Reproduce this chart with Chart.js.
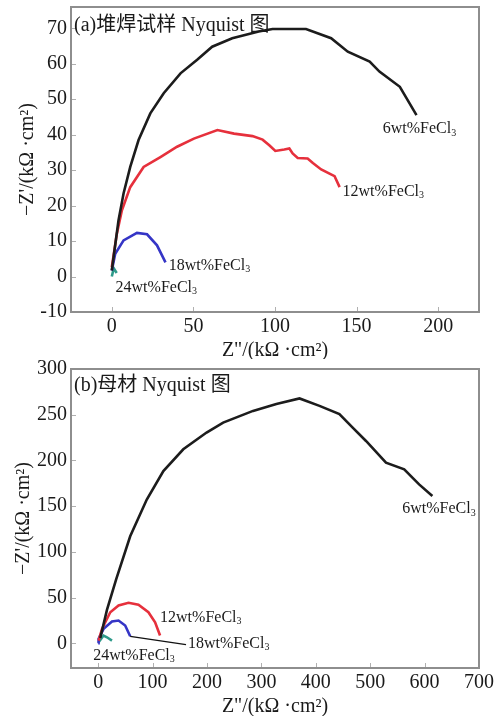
<!DOCTYPE html>
<html>
<head>
<meta charset="utf-8">
<script src="https://cdn.jsdelivr.net/npm/chart.js@4.4.1/dist/chart.umd.min.js"></script>
<style>
    html, body { margin: 0; padding: 0; background: #fff; }
    #chartA { position: absolute; left: 0; top: 0; }
    #chartB { position: absolute; left: 0; top: 359px; }
</style>
</head>
<body>
<canvas id="chartA" width="502" height="359"></canvas>
<canvas id="chartB" width="502" height="357"></canvas>
<script>
    'use strict';

    // tick labels
    const xTicksA = [0, 50, 100, 150, 200];
    const yTicksA = [-10, 0, 10, 20, 30, 40, 50, 60, 70];
    const xTicksB = [0, 100, 200, 300, 400, 500, 600, 700];
    const yTicksB = [0, 50, 100, 150, 200, 250, 300];

    // series names (subscript 3 drawn separately)
    const seriesNames = ['6wt%FeCl', '12wt%FeCl', '18wt%FeCl', '24wt%FeCl'];
    const titleA = '(a)堆焊试样 Nyquist 图';
    const titleB = '(b)母材 Nyquist 图';
    const xTitle = 'Z"/(kΩ ·cm²)';
    const yTitle = '−Z\'/(kΩ ·cm²)';

    // (a) 堆焊试样
    const a6x = [0, 4.1, 7.2, 11.3, 16.4, 23.6, 31.8, 42.1, 52.3, 61.5, 73.8, 90, 98.5, 119, 134.4, 144.6, 158, 164, 176.5, 186.7];
    const a6y = [1.7, 15.8, 23.4, 30.9, 38.5, 46, 51.7, 57.3, 61.1, 64.8, 67.2, 69.1, 69.8, 69.8, 67.2, 63.4, 60.6, 57.8, 53.5, 45.5];
    const a12x = [0, 3.1, 6.2, 11.3, 19.5, 29.8, 40, 50.3, 64.7, 74.9, 86.2, 92.4, 96.5, 100.2, 105.7, 108.8, 110.8, 113.9, 120, 123.2, 128.3, 133.4, 136.5, 139.6];
    const a12y = [2.6, 12.1, 18.7, 25.2, 30.9, 33.7, 36.6, 38.9, 41.3, 40.3, 39.6, 38.6, 37.0, 35.4, 35.8, 36.1, 34.7, 33.4, 33.3, 32.0, 30.2, 29.0, 28.3, 25.2];
    const a18x = [0, 2.1, 7.2, 15.4, 21.6, 27.7, 32.9];
    const a18y = [1.7, 6.4, 10.2, 12.3, 11.9, 8.8, 4.0];
    const a24x = [0, 1.2, 3];
    const a24y = [0, 2.3, 1];

    // (b) 母材
    const b6x = [3.8, 16.1, 33, 58.8, 89.3, 119.8, 156.4, 199.2, 229.7, 284.6, 327.5, 370.1, 406.8, 443.4, 467.8, 492.3, 529, 562.5, 589.9, 614.3];
    const b6y = [5.8, 36.6, 70, 117, 157.3, 188.4, 212.2, 230.5, 241.4, 254.2, 261.6, 267.8, 259.7, 250.6, 235.9, 221.3, 197.5, 190.3, 173.8, 161];
    const b12x = [0.7, 7, 22.2, 37.4, 55.7, 74, 92.3, 104.6, 113.7];
    const b12y = [3, 15.8, 34, 41.4, 44.3, 42.1, 34, 23, 8.5];
    const b18x = [0, 0.7, 9.9, 25.3, 37.4, 49.6, 58.8];
    const b18y = [0, 4.8, 15.8, 23.8, 24.9, 19.4, 7.7];
    const b24x = [0.7, 9.9, 16.1, 25.3];
    const b24y = [1.1, 8.5, 6.6, 3];

    const colors = ['#1c1c1c', '#e6303c', '#3535c6', '#2e9a8a'];
    const serif = "'Liberation Serif', 'Noto Sans CJK SC'";

    function pts(xs, ys) {
        return xs.map(function (x, i) { return { x: x, y: ys[i] }; });
    }

    function ds(xs, ys, i) {
        return {
            data: pts(xs, ys),
            showLine: true,
            borderColor: colors[i],
            backgroundColor: colors[i],
            borderWidth: 2.6,
            pointRadius: 0,
            tension: 0
        };
    }

    function drawName(ctx, text, x, y) {
        ctx.font = '16px ' + serif;
        ctx.textAlign = 'left';
        ctx.textBaseline = 'middle';
        ctx.fillText(text, x, y);
        var w = ctx.measureText(text).width;
        ctx.font = '10px ' + serif;
        ctx.fillText('3', x + w, y + 4);
    }

    // frame, inward ticks, panel title and curve labels
    const nyqPlugin = {
        id: 'nyq',
        afterDraw: function (chart, args, opts) {
            const ctx = chart.ctx;
            const a = chart.chartArea;
            const xs = chart.scales.x, ys = chart.scales.y;
            ctx.save();
            ctx.strokeStyle = '#b0b0b0';
            ctx.lineWidth = 1;
            ctx.beginPath();
            xs.ticks.forEach(function (t) {
                var px = Math.round(xs.getPixelForValue(t.value)) + 0.5;
                ctx.moveTo(px, a.bottom);
                ctx.lineTo(px, a.bottom - 5);
            });
            ys.ticks.forEach(function (t) {
                var py = Math.round(ys.getPixelForValue(t.value)) + 0.5;
                ctx.moveTo(a.left, py);
                ctx.lineTo(a.left + 5, py);
            });
            ctx.stroke();

            ctx.strokeStyle = '#8e8e8e';
            ctx.lineWidth = 2;
            ctx.strokeRect(a.left, a.top, a.right - a.left, a.bottom - a.top);

            ctx.fillStyle = '#1a1a1a';
            ctx.font = '20px ' + serif;
            ctx.textAlign = 'left';
            ctx.textBaseline = 'middle';
            ctx.fillText(opts.title, a.left + 3, a.top + opts.titleDy);

            if (opts.leader) {
                ctx.strokeStyle = '#111';
                ctx.lineWidth = 1.3;
                ctx.beginPath();
                ctx.moveTo(xs.getPixelForValue(opts.leader[0]), ys.getPixelForValue(opts.leader[1]));
                ctx.lineTo(xs.getPixelForValue(opts.leader[2]), ys.getPixelForValue(opts.leader[3]));
                ctx.stroke();
            }

            opts.labels.forEach(function (l, i) {
                drawName(ctx, seriesNames[i], xs.getPixelForValue(l[0]), ys.getPixelForValue(l[1]));
            });
            ctx.restore();
        }
    };

    function makeChart(id, datasets, cfg) {
        return new Chart(document.getElementById(id), {
            type: 'scatter',
            data: { datasets: datasets },
            options: {
                responsive: false,
                animation: false,
                layout: { padding: { top: cfg.padTop, right: 23, left: 0, bottom: 0 } },
                scales: {
                    x: {
                        type: 'linear',
                        min: cfg.xMin,
                        max: cfg.xMax,
                        grid: { display: false, drawTicks: false },
                        border: { display: false },
                        afterBuildTicks: function (s) { s.ticks = cfg.xTicks.map(function (v) { return { value: v }; }); },
                        afterFit: function (s) {
                            s.height = cfg.xHeight;
                            s.paddingLeft = 0;
                            s.paddingRight = 0;
                        },
                        ticks: { color: '#1a1a1a', padding: 3, font: { family: serif, size: 20 } },
                        title: {
                            display: true,
                            text: xTitle,
                            color: '#1a1a1a',
                            font: { family: serif, size: 20, lineHeight: 1 },
                            padding: { top: 0, bottom: cfg.xTitlePad }
                        }
                    },
                    y: {
                        type: 'linear',
                        min: cfg.yMin,
                        max: cfg.yMax,
                        grid: { display: false, drawTicks: false },
                        border: { display: false },
                        afterBuildTicks: function (s) { s.ticks = cfg.yTicks.map(function (v) { return { value: v }; }); },
                        afterFit: function (s) {
                            s.width = 71;
                            s.paddingTop = 0;
                            s.paddingBottom = 0;
                        },
                        ticks: { color: '#1a1a1a', padding: 4, font: { family: serif, size: 20, lineHeight: 1 } },
                        title: {
                            display: true,
                            text: yTitle,
                            color: '#1a1a1a',
                            font: { family: serif, size: 20, lineHeight: 1 },
                            padding: { top: cfg.yTitlePad, bottom: 0 }
                        }
                    }
                },
                plugins: {
                    legend: { display: false },
                    tooltip: { enabled: false },
                    nyq: { title: cfg.title, titleDy: cfg.titleDy, labels: cfg.labels, leader: cfg.leader }
                }
            },
            plugins: [nyqPlugin]
        });
    }

    makeChart('chartA', [ds(a6x, a6y, 0), ds(a12x, a12y, 1), ds(a18x, a18y, 2), ds(a24x, a24y, 3)], {
        padTop: 7, xHeight: 47, xMin: -25, xMax: 225, yMin: -10, yMax: 76,
        xTicks: xTicksA, yTicks: yTicksA, xTitlePad: -2, yTitlePad: 18,
        title: titleA, titleDy: 19,
        labels: [[166, 41.6], [141.4, 24], [34.9, 3.1], [2.3, -3.1]],
        leader: null
    });

    makeChart('chartB', [ds(b6x, b6y, 0), ds(b12x, b12y, 1), ds(b18x, b18y, 2), ds(b24x, b24y, 3)], {
        padTop: 10, xHeight: 48, xMin: -50, xMax: 700, yMin: -27, yMax: 300,
        xTicks: xTicksB, yTicks: yTicksB, xTitlePad: -1, yTitlePad: 14,
        title: titleB, titleDy: 17,
        labels: [[558.8, 146.8], [113.7, 28.2], [165, -0.3], [-9, -13.5]],
        leader: [58.8, 7.7, 161.4, -1.4]
    });
</script>
</body>
</html>
